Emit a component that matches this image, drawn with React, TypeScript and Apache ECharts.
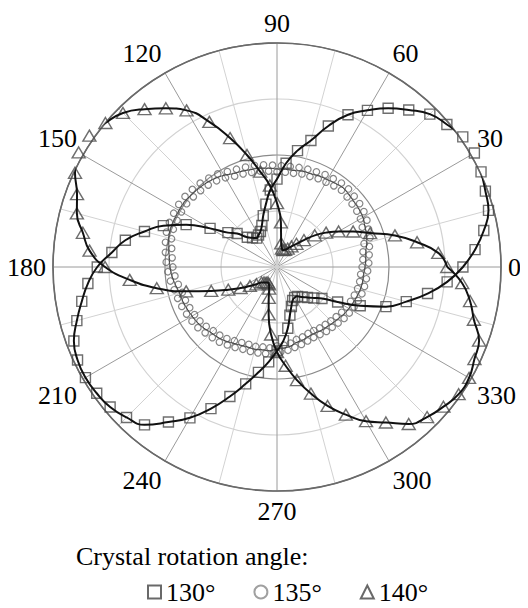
import React, { useEffect, useRef } from 'react';
import * as echarts from 'echarts';

// polarization angle (deg) for the 130° and 140° data sets
const angles = [
  0, 5, 10, 15, 20, 25, 30, 35, 40, 45, 50, 55, 60, 65, 70, 75, 80, 85, 90, 95, 100, 105, 110, 115,
  120, 125, 130, 135, 140, 145, 150, 155, 160, 165, 170, 175, 180, 185, 190, 195, 200, 205, 210, 215,
  220, 225, 230, 235, 240, 245, 250, 255, 260, 265, 270, 275, 280, 285, 290, 295, 300, 305, 310, 315,
  320, 325, 330, 335, 340, 345, 350, 355,
];

// crystal rotation 130°
const r130 = [
  3.32, 3.55, 3.75, 3.91, 3.96, 4.02, 4.07, 4.05, 3.96, 3.86, 3.66, 3.46, 3.23, 3.0, 2.68, 2.34, 2.11, 1.86,
  1.57, 1.38, 1.14, 0.95, 0.79, 0.7, 0.66, 0.63, 0.68, 0.75, 0.93, 1.07, 1.38, 1.79, 2.16, 2.45, 2.75, 2.96,
  3.21, 3.39, 3.54, 3.7, 3.86, 3.93, 3.95, 3.93, 3.89, 3.8, 3.68, 3.38, 3.11, 2.79, 2.46, 2.16, 1.91, 1.7,
  1.5, 1.32, 1.11, 0.89, 0.75, 0.66, 0.63, 0.64, 0.7, 0.77, 0.86, 0.98, 1.25, 1.64, 2.07, 2.39, 2.73, 3.05,
];

// crystal rotation 140°
const r140 = [
  3.04, 2.89, 2.54, 2.18, 1.77, 1.5, 1.27, 1.07, 0.88, 0.68, 0.54, 0.45, 0.38, 0.34, 0.32, 0.34, 0.43, 0.8,
  1.14, 1.46, 1.73, 2.07, 2.45, 2.86, 3.23, 3.46, 3.68, 3.89, 4.0, 4.09, 4.09, 3.98, 3.8, 3.7, 3.52, 3.36,
  3.07, 2.64, 2.18, 1.68, 1.25, 0.96, 0.75, 0.59, 0.48, 0.39, 0.36, 0.34, 0.32, 0.34, 0.41, 0.57, 0.86, 1.21,
  1.52, 1.77, 2.05, 2.34, 2.64, 2.91, 3.18, 3.39, 3.66, 3.79, 3.88, 3.96, 3.96, 3.89, 3.84, 3.64, 3.5, 3.32,
];

// crystal rotation 135° (finer angular step)
const anglesFine = [
  0, 2.5, 5, 7.5, 10, 12.5, 15, 17.5, 20, 22.5, 25, 27.5, 30, 32.5, 35, 37.5, 40, 42.5, 45, 47.5,
  50, 52.5, 55, 57.5, 60, 62.5, 65, 67.5, 70, 72.5, 75, 77.5, 80, 82.5, 85, 87.5, 90, 92.5, 95, 97.5,
  100, 102.5, 105, 107.5, 110, 112.5, 115, 117.5, 120, 122.5, 125, 127.5, 130, 132.5, 135, 137.5, 140, 142.5, 145, 147.5,
  150, 152.5, 155, 157.5, 160, 162.5, 165, 167.5, 170, 172.5, 175, 177.5, 180, 182.5, 185, 187.5, 190, 192.5, 195, 197.5,
  200, 202.5, 205, 207.5, 210, 212.5, 215, 217.5, 220, 222.5, 225, 227.5, 230, 232.5, 235, 237.5, 240, 242.5, 245, 247.5,
  250, 252.5, 255, 257.5, 260, 262.5, 265, 267.5, 270, 272.5, 275, 277.5, 280, 282.5, 285, 287.5, 290, 292.5, 295, 297.5,
  300, 302.5, 305, 307.5, 310, 312.5, 315, 317.5, 320, 322.5, 325, 327.5, 330, 332.5, 335, 337.5, 340, 342.5, 345, 347.5,
  350, 352.5, 355, 357.5,
];
const r135 = [
  1.52, 1.64, 1.54, 1.66, 1.56, 1.69, 1.61, 1.74, 1.65, 1.77, 1.68, 1.81, 1.72, 1.84, 1.74, 1.86, 1.75, 1.87, 1.77, 1.89,
  1.79, 1.89, 1.77, 1.87, 1.75, 1.86, 1.74, 1.84, 1.72, 1.83, 1.72, 1.82, 1.7, 1.81, 1.7, 1.81, 1.7, 1.82, 1.72, 1.84,
  1.74, 1.86, 1.75, 1.87, 1.77, 1.89, 1.79, 1.92, 1.84, 1.97, 1.88, 2.0, 1.91, 2.03, 1.93, 2.05, 1.95, 2.07, 1.97, 2.08,
  1.97, 2.08, 1.97, 2.08, 1.97, 2.07, 1.95, 2.04, 1.91, 2.01, 1.88, 1.98, 1.86, 1.95, 1.83, 1.92, 1.79, 1.88, 1.75, 1.86,
  1.74, 1.84, 1.72, 1.82, 1.7, 1.8, 1.68, 1.78, 1.65, 1.74, 1.61, 1.71, 1.59, 1.69, 1.56, 1.65, 1.52, 1.62, 1.49, 1.59,
  1.47, 1.58, 1.47, 1.57, 1.45, 1.56, 1.45, 1.54, 1.41, 1.52, 1.4, 1.5, 1.38, 1.47, 1.34, 1.45, 1.33, 1.43, 1.31, 1.42,
  1.31, 1.43, 1.33, 1.45, 1.34, 1.46, 1.36, 1.48, 1.38, 1.51, 1.41, 1.53, 1.43, 1.55, 1.45, 1.57, 1.47, 1.59, 1.49, 1.6,
  1.5, 1.61, 1.5, 1.62,
];
// fitted curve for 135°
const fit135 = [
  1.57, 1.59, 1.61, 1.66, 1.7, 1.73, 1.77, 1.79, 1.8, 1.82, 1.84, 1.82, 1.8, 1.79, 1.77, 1.77, 1.75, 1.75,
  1.75, 1.77, 1.79, 1.8, 1.82, 1.84, 1.89, 1.93, 1.96, 1.98, 2.0, 2.02, 2.02, 2.02, 2.02, 2.0, 1.96, 1.93,
  1.91, 1.88, 1.84, 1.8, 1.79, 1.77, 1.75, 1.73, 1.7, 1.66, 1.64, 1.61, 1.57, 1.54, 1.52, 1.52, 1.5, 1.5,
  1.46, 1.45, 1.43, 1.39, 1.38, 1.36, 1.36, 1.38, 1.39, 1.41, 1.43, 1.46, 1.48, 1.5, 1.52, 1.54, 1.55, 1.55,
];

const seriesNames = ['130°', '135°', '140°'];
const legendTitle = 'Crystal rotation angle:';
const angleMax = 360;
const radiusMax = 4;

function toPolar(a: number[], r: number[]) {
  return r.map((v, i) => [v, a[i]]);
}
function closedLoop(a: number[], r: number[]) {
  const p = toPolar(a, r);
  p.push([r[0], a[0] + 360]);
  return p;
}

export default function App() {
  const ref = useRef<HTMLDivElement>(null);
  useEffect(() => {
    if (!ref.current) return;
    const chart = echarts.init(ref.current, null, { renderer: 'svg' });
    const hollow = 'rgba(0,0,0,0)';
    chart.setOption({
      animation: false,
      textStyle: { fontFamily: 'serif' },
      title: {
        text: legendTitle,
        left: 63,
        top: 530,
        textStyle: { fontFamily: 'serif', fontSize: 26, fontWeight: 'normal', color: 'black' },
      },
      legend: {
        left: 134,
        top: 566,
        itemWidth: 13,
        itemHeight: 13,
        itemGap: 38,
        textStyle: { fontFamily: 'serif', fontSize: 26, color: 'black' },
        data: [
          { name: seriesNames[0], icon: 'rect', itemStyle: { color: hollow, borderColor: '#444', borderWidth: 2 } },
          { name: seriesNames[1], icon: 'circle', itemStyle: { color: hollow, borderColor: '#888', borderWidth: 2 } },
          { name: seriesNames[2], icon: 'triangle', itemStyle: { color: hollow, borderColor: '#444', borderWidth: 2 } },
        ],
      },
      polar: { center: [269, 259], radius: 224 },
      angleAxis: {
        type: 'value',
        min: 0,
        max: angleMax,
        interval: 15,
        startAngle: 0,
        clockwise: false,
        axisLine: { show: true, lineStyle: { color: '#6a6a6a', width: 1.6 } },
        axisTick: { show: false },
        axisLabel: {
          formatter: (v: number) => (v % 30 === 0 && v < 360 ? String(v) : ''),
          fontFamily: 'serif',
          fontSize: 26,
          color: 'black',
          margin: 7,
        },
        splitLine: { show: true, lineStyle: { color: ['#9a9a9a', '#d2d2d2'], width: 1 } },
      },
      radiusAxis: {
        type: 'value',
        min: 0,
        max: radiusMax,
        interval: 1,
        axisLine: { show: false },
        axisTick: { show: false },
        axisLabel: { show: false },
        splitLine: { show: true, lineStyle: { color: ['#d2d2d2', '#d2d2d2', '#8a8a8a', '#d2d2d2', '#6a6a6a'], width: 1.2 } },
      },
      series: [
        {
          name: seriesNames[1],
          type: 'scatter',
          coordinateSystem: 'polar',
          symbol: 'circle',
          symbolSize: 6.5,
          clip: false,
          itemStyle: { color: hollow, borderColor: '#666', borderWidth: 1.2 },
          data: toPolar(anglesFine, r135),
        },
        {
          name: seriesNames[1] + ' fit',
          type: 'line',
          coordinateSystem: 'polar',
          smooth: true,
          showSymbol: false,
          clip: false,
          lineStyle: { color: '#444', width: 1 },
          data: closedLoop(angles, fit135),
        },
        {
          name: seriesNames[0],
          type: 'scatter',
          coordinateSystem: 'polar',
          symbol: 'rect',
          symbolSize: 10,
          clip: false,
          itemStyle: { color: hollow, borderColor: '#4a4a4a', borderWidth: 1.4 },
          data: toPolar(angles, r130),
        },
        {
          name: seriesNames[2],
          type: 'scatter',
          coordinateSystem: 'polar',
          symbol: 'triangle',
          symbolSize: [13, 11],
          clip: false,
          itemStyle: { color: hollow, borderColor: '#4a4a4a', borderWidth: 1.4 },
          data: toPolar(angles, r140),
        },
        {
          name: seriesNames[0] + ' fit',
          type: 'line',
          coordinateSystem: 'polar',
          smooth: true,
          showSymbol: false,
          clip: false,
          lineStyle: { color: '#111', width: 2 },
          data: closedLoop(angles, r130),
        },
        {
          name: seriesNames[2] + ' fit',
          type: 'line',
          coordinateSystem: 'polar',
          smooth: true,
          showSymbol: false,
          clip: false,
          lineStyle: { color: '#111', width: 2 },
          data: closedLoop(angles, r140),
        },
      ],
    });
    return () => chart.dispose();
  }, []);
  return <div ref={ref} style={{ width: 520, height: 600 }} />;
}
